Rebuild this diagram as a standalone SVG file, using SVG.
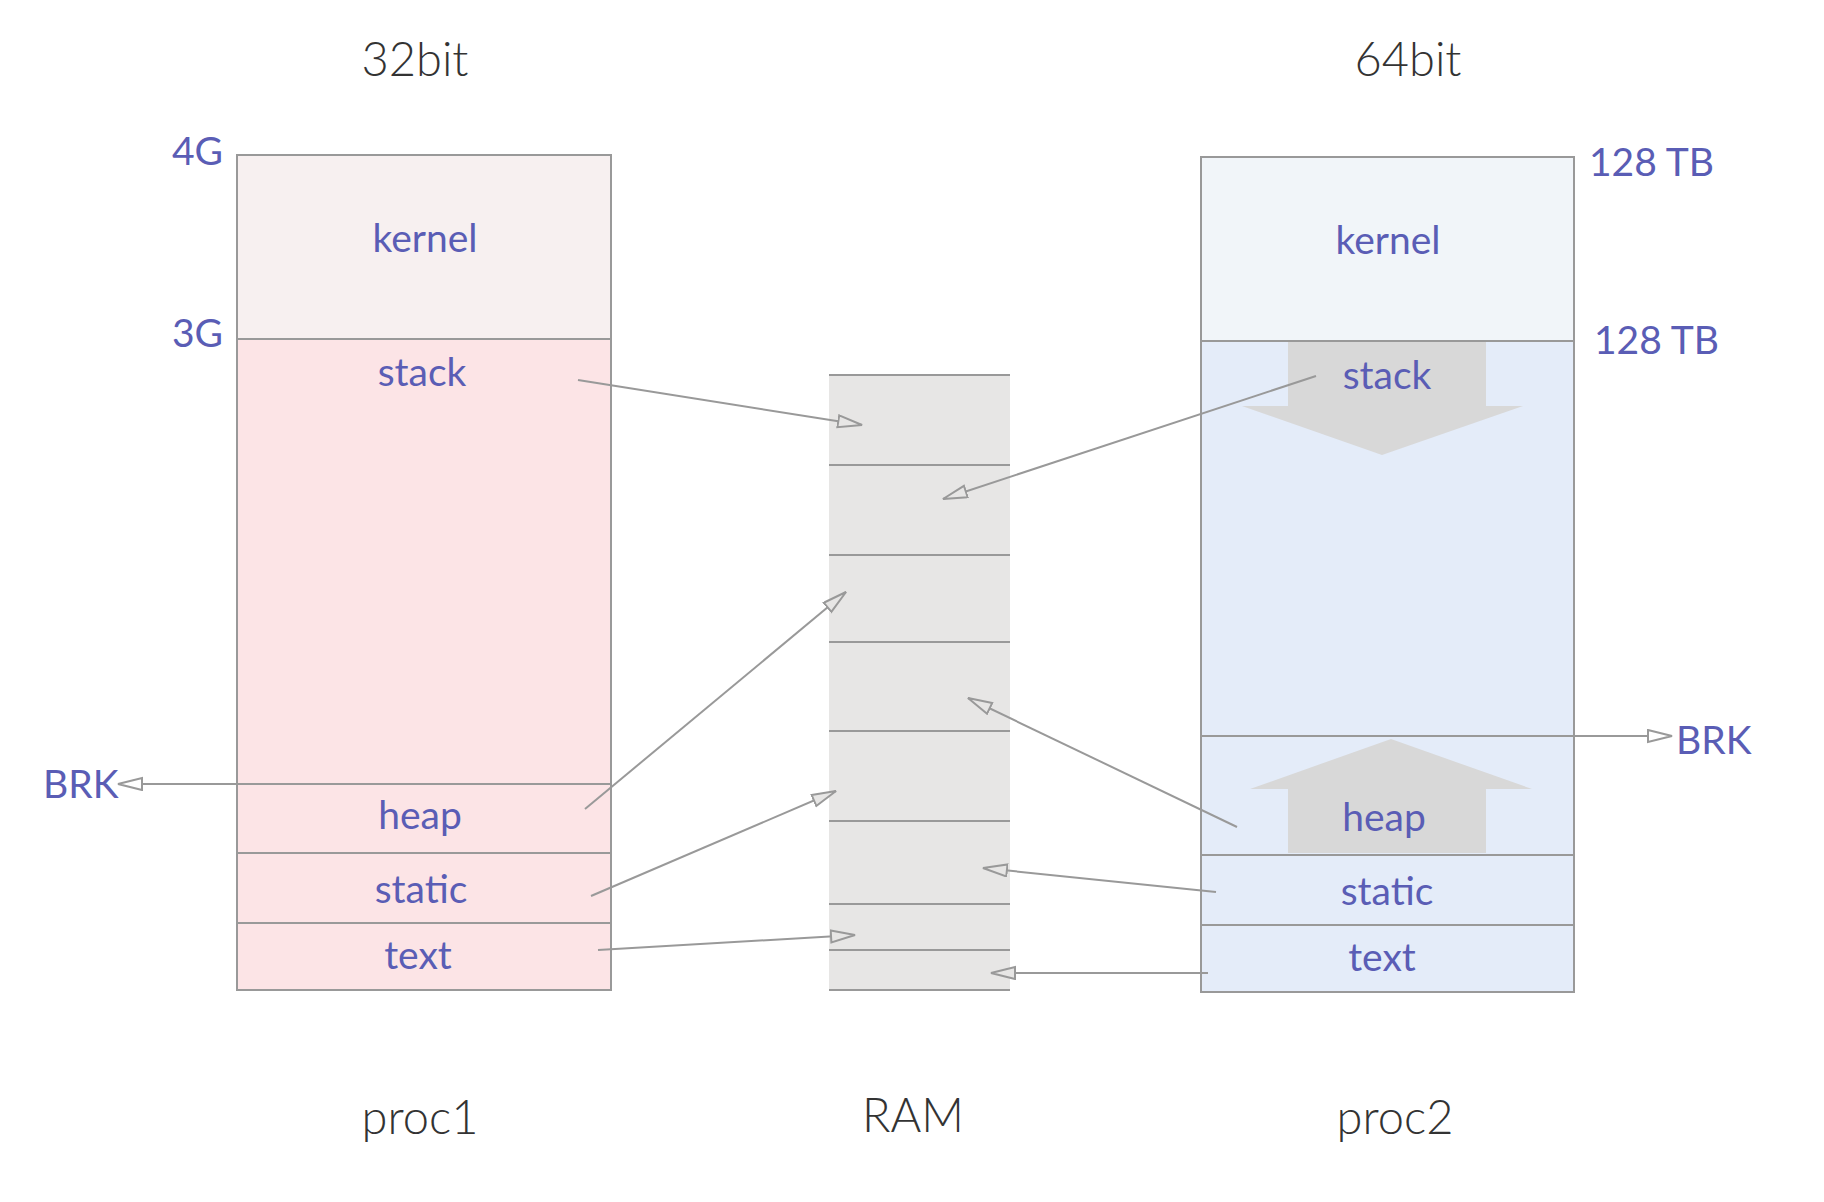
<svg xmlns="http://www.w3.org/2000/svg" width="1824" height="1202" viewBox="0 0 1824 1202">
<defs>
<style>
.lbl{font-family:Lato,"Noto Sans","Liberation Sans",sans-serif;font-size:39px;fill:#5a5db5;}
.ttl{font-family:Lato,"Liberation Sans",sans-serif;font-size:47px;font-weight:300;fill:#333;}
.box{stroke:#999;stroke-width:2;}
.div{stroke:#999;stroke-width:2;fill:none;}
.con{stroke:#999;stroke-width:2;fill:none;}
.big{fill:#d8d8d8;}
</style>
<marker id="arrG" markerUnits="userSpaceOnUse" markerWidth="30" markerHeight="20" refX="25" refY="7" orient="auto" viewBox="0 0 30 20">
<path d="M1,1 L25,7 L1,13 z" fill="#e7e6e5" stroke="#999" stroke-width="2"/>
</marker>
<marker id="arrW" markerUnits="userSpaceOnUse" markerWidth="30" markerHeight="20" refX="25" refY="7" orient="auto" viewBox="0 0 30 20">
<path d="M1,1 L25,7 L1,13 z" fill="#fff" stroke="#999" stroke-width="2"/>
</marker>
</defs>
<rect width="1824" height="1202" fill="#fff"/>

<text class="ttl" x="415" y="76" text-anchor="middle">32bit</text>
<text class="ttl" x="1408" y="76" text-anchor="middle">64bit</text>

<g id="proc1">
<rect x="237" y="155" width="374" height="184" fill="#f7f0f0" class="box"/>
<rect x="237" y="339" width="374" height="651" fill="#fce4e6" class="box"/>
<line x1="237" y1="853" x2="611" y2="853" class="div"/>
<line x1="237" y1="923" x2="611" y2="923" class="div"/>
<text class="lbl" x="425" y="252" text-anchor="middle">kernel</text>
<text class="lbl" x="422" y="386" text-anchor="middle">stack</text>
<text class="lbl" x="420" y="829" text-anchor="middle">heap</text>
<text class="lbl" x="421" y="903" text-anchor="middle">static</text>
<text class="lbl" x="418" y="969" text-anchor="middle">text</text>
<text class="lbl" x="223" y="165" text-anchor="end">4G</text>
<text class="lbl" x="223" y="347" text-anchor="end">3G</text>
<text class="ttl" x="420" y="1134" text-anchor="middle">proc1</text>
</g>

<g id="ram">
<rect x="829" y="375" width="181" height="615" fill="#e7e6e5"/>
<g class="div">
<line x1="829" y1="375" x2="1010" y2="375"/>
<line x1="829" y1="465" x2="1010" y2="465"/>
<line x1="829" y1="555" x2="1010" y2="555"/>
<line x1="829" y1="642" x2="1010" y2="642"/>
<line x1="829" y1="731" x2="1010" y2="731"/>
<line x1="829" y1="821" x2="1010" y2="821"/>
<line x1="829" y1="904" x2="1010" y2="904"/>
<line x1="829" y1="950" x2="1010" y2="950"/>
<line x1="829" y1="990" x2="1010" y2="990"/>
</g>
<text class="ttl" x="913" y="1132" text-anchor="middle">RAM</text>
</g>

<g id="proc2">
<rect x="1201" y="157" width="373" height="184" fill="#f1f5f9" class="box"/>
<rect x="1201" y="341" width="373" height="651" fill="#e4ecf9" class="box"/>
<line x1="1201" y1="855" x2="1574" y2="855" class="div"/>
<line x1="1201" y1="925" x2="1574" y2="925" class="div"/>
<polygon class="big" points="1288,342 1486,342 1486,406 1523,406 1382,455 1242,406 1288,406"/>
<polygon class="big" points="1288,853 1486,853 1486,789 1532,789 1391,739 1250,789 1288,789"/>
<text class="lbl" x="1388" y="254" text-anchor="middle">kernel</text>
<text class="lbl" x="1387" y="389" text-anchor="middle">stack</text>
<text class="lbl" x="1384" y="831" text-anchor="middle">heap</text>
<text class="lbl" x="1387" y="905" text-anchor="middle">static</text>
<text class="lbl" x="1382" y="971" text-anchor="middle">text</text>
<text class="lbl" x="1589" y="176">128 TB</text>
<text class="lbl" x="1594" y="354">128 TB</text>
<text class="ttl" x="1395" y="1134" text-anchor="middle">proc2</text>
</g>

<g id="connectors">
<line class="con" x1="578" y1="380" x2="862" y2="425" marker-end="url(#arrG)"/>
<line class="con" x1="1316" y1="376" x2="943" y2="499" marker-end="url(#arrG)"/>
<line class="con" x1="585" y1="809" x2="846" y2="592" marker-end="url(#arrG)"/>
<line class="con" x1="1237" y1="827" x2="968" y2="698" marker-end="url(#arrG)"/>
<line class="con" x1="591" y1="896" x2="836" y2="791" marker-end="url(#arrG)"/>
<line class="con" x1="1216" y1="892" x2="983" y2="868" marker-end="url(#arrG)"/>
<line class="con" x1="598" y1="950" x2="855" y2="935" marker-end="url(#arrG)"/>
<line class="con" x1="1208" y1="973" x2="991" y2="973" marker-end="url(#arrG)"/>
<line class="con" x1="611" y1="784" x2="118" y2="784" marker-end="url(#arrW)"/>
<line class="con" x1="1201" y1="736" x2="1672" y2="736" marker-end="url(#arrW)"/>
</g>
<text class="lbl" x="43" y="798">BRK</text>
<text class="lbl" x="1676" y="754">BRK</text>
</svg>
